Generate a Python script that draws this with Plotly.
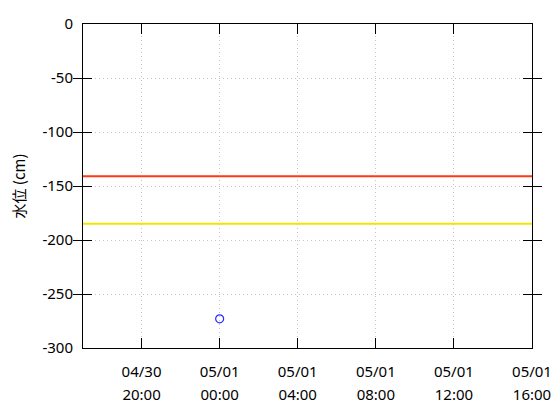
import plotly.graph_objects as go

# data
obs_times = ["2024-05-01 00:00"]
obs_levels = [-273]
red_level = -141
yellow_level = -185
x_range = ["2024-04-30 17:00", "2024-05-01 16:00"]
tick_vals = ["2024-04-30 20:00", "2024-05-01 00:00", "2024-05-01 04:00",
             "2024-05-01 08:00", "2024-05-01 12:00", "2024-05-01 16:00"]
tick_dates = ["04/30", "05/01", "05/01", "05/01", "05/01", "05/01"]
tick_times = ["20:00", "00:00", "04:00", "08:00", "12:00", "16:00"]
y_ticks = [0, -50, -100, -150, -200, -250, -300]
y_tick_text = ["0", "-50", "-100", "-150", "-200", "-250", "-300"]

fig = go.Figure()
fig.add_trace(go.Scatter(x=x_range, y=[red_level, red_level], mode="lines",
                         line=dict(color="#ff3a12", width=2), showlegend=False))
fig.add_trace(go.Scatter(x=x_range, y=[yellow_level, yellow_level], mode="lines",
                         line=dict(color="#f2e600", width=2), showlegend=False))
fig.add_trace(go.Scatter(x=obs_times, y=obs_levels, mode="markers",
                         marker=dict(symbol="circle-open", size=8, color="#2a2aff",
                                     line=dict(width=1.2)),
                         showlegend=False))
# invisible trace to activate second x axis
fig.add_trace(go.Scatter(x=x_range, y=[None, None], xaxis="x2", mode="lines",
                         showlegend=False, hoverinfo="skip"))

font = dict(family="Noto Sans, DejaVu Sans, sans-serif", size=15, color="black")
grid = dict(showgrid=True, gridcolor="#c4c4c4", griddash="1px,3px", gridwidth=1)
fig.update_layout(
    width=552, height=412,
    margin=dict(l=75, r=28, t=16, b=72),
    paper_bgcolor="white", plot_bgcolor="white",
    font=font,
    xaxis=dict(type="date", range=x_range, tickvals=tick_vals, ticktext=tick_dates,
               ticks="inside", ticklen=10, tickcolor="black", tickwidth=1,
               showline=True, linecolor="black", linewidth=1, mirror="allticks",
               zeroline=False, ticklabelstandoff=10, automargin=False, **grid),
    xaxis2=dict(type="date", range=x_range, tickvals=tick_vals, ticktext=tick_times,
                overlaying="x", side="bottom", anchor="y", ticks="",
                showgrid=False, showline=False, zeroline=False,
                ticklabelstandoff=36, automargin=False),
    yaxis=dict(range=[-300, 0], tickvals=y_ticks, ticktext=y_tick_text,
               ticks="inside", ticklen=9,
               tickcolor="black", tickwidth=1, showline=True, linecolor="black",
               linewidth=1, mirror="allticks", zeroline=True, zerolinecolor="black",
               zerolinewidth=2, automargin=False, ticklabelstandoff=6, **grid,
               title=dict(text="水位 (cm)", standoff=16,
                          font=dict(family="Noto Sans CJK JP, Noto Sans, sans-serif", size=15))),
)
fig.write_html("out.html")
